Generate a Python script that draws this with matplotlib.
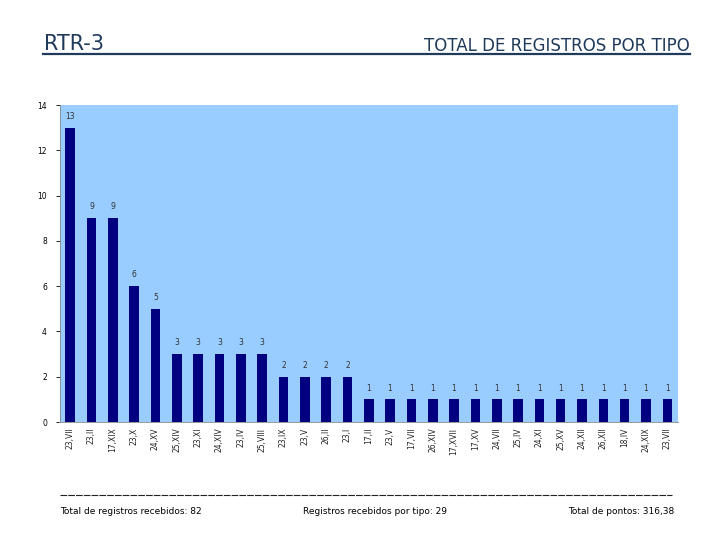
import matplotlib
matplotlib.use("Agg")
import matplotlib.pyplot as plt
from matplotlib.lines import Line2D

categories = ["23,VII", "23,II", "17,XIX", "23,X", "24,XV", "25,XIV", "23,XI", "24,XIV",
              "23,IV", "25,VIII", "23,IX", "23,V", "26,II", "23,I", "17,II", "23,V",
              "17,VII", "26,XIV", "17,XVII", "17,XV", "24,VII", "25,IV", "24,XI", "25,XV",
              "24,XII", "26,XII", "18,IV", "24,XIX", "23,VII"]
values = [13, 9, 9, 6, 5, 3, 3, 3, 3, 3, 2, 2, 2, 2, 1, 1, 1, 1, 1, 1, 1, 1, 1, 1, 1, 1, 1, 1, 1]
yticks = [0, 2, 4, 6, 8, 10, 12, 14]

plt.rcParams['font.family'] = ['DejaVu Sans']
fig = plt.figure(figsize=(7.2, 5.4), dpi=100)
ax = fig.add_axes([59.5/720, 0.2185, (678-59.5)/720, 0.587])
ax.set_facecolor('#99CCFF')
x = list(range(len(categories)))
ax.bar(x, values, width=0.45, color='#000080', zorder=2)
for xi, v in zip(x, values):
    ax.text(xi, v + 0.3, str(v), ha='center', va='bottom', fontsize=5.5, color='#333333')
ax.set_xlim(-0.5, len(categories) - 0.5)
ax.set_ylim(0, 14)
ax.set_yticks(yticks)
ax.set_yticklabels([str(t) for t in yticks], fontsize=5.5)
ax.set_xticks(x)
ax.set_xticklabels(categories, rotation=90, fontsize=5.5, color='#222222')
ax.tick_params(axis='y', length=3, width=0.6, pad=6)
ax.tick_params(axis='x', length=0, pad=4)
for s in ['top', 'right']:
    ax.spines[s].set_visible(False)
ax.spines['left'].set_linewidth(0.6)
ax.spines['bottom'].set_linewidth(0.6)
ax.spines['left'].set_color('#888888')
ax.spines['bottom'].set_color('#888888')

# Header
line_col = '#1F3A5A'
fig.text(44/720, 1 - 44/540, "RTR-3", fontsize=15, color='#1F3A5A', va='center', ha='left')
fig.text(690/720, 1 - 46/540, "TOTAL DE REGISTROS POR TIPO", fontsize=12, color='#1F3A5A',
         va='center', ha='right')
fig.add_artist(Line2D([43/720, 690/720], [1 - 54/540, 1 - 54/540], color=line_col, lw=1.6))

# Footer
fig.add_artist(Line2D([60/720, 672/720], [1 - 495/540, 1 - 495/540], color='#222222',
                      lw=0.8, linestyle=(0, (6, 1))))
fig.text(60/720, 1 - 511/540, "Total de registros recebidos: 82", fontsize=6.5, va='center', ha='left')
fig.text(303/720, 1 - 511/540, "Registros recebidos por tipo: 29", fontsize=6.5, va='center', ha='left')
fig.text(674/720, 1 - 511/540, "Total de pontos: 316,38", fontsize=6.5, va='center', ha='right')

fig.savefig("out.png", dpi=100)
